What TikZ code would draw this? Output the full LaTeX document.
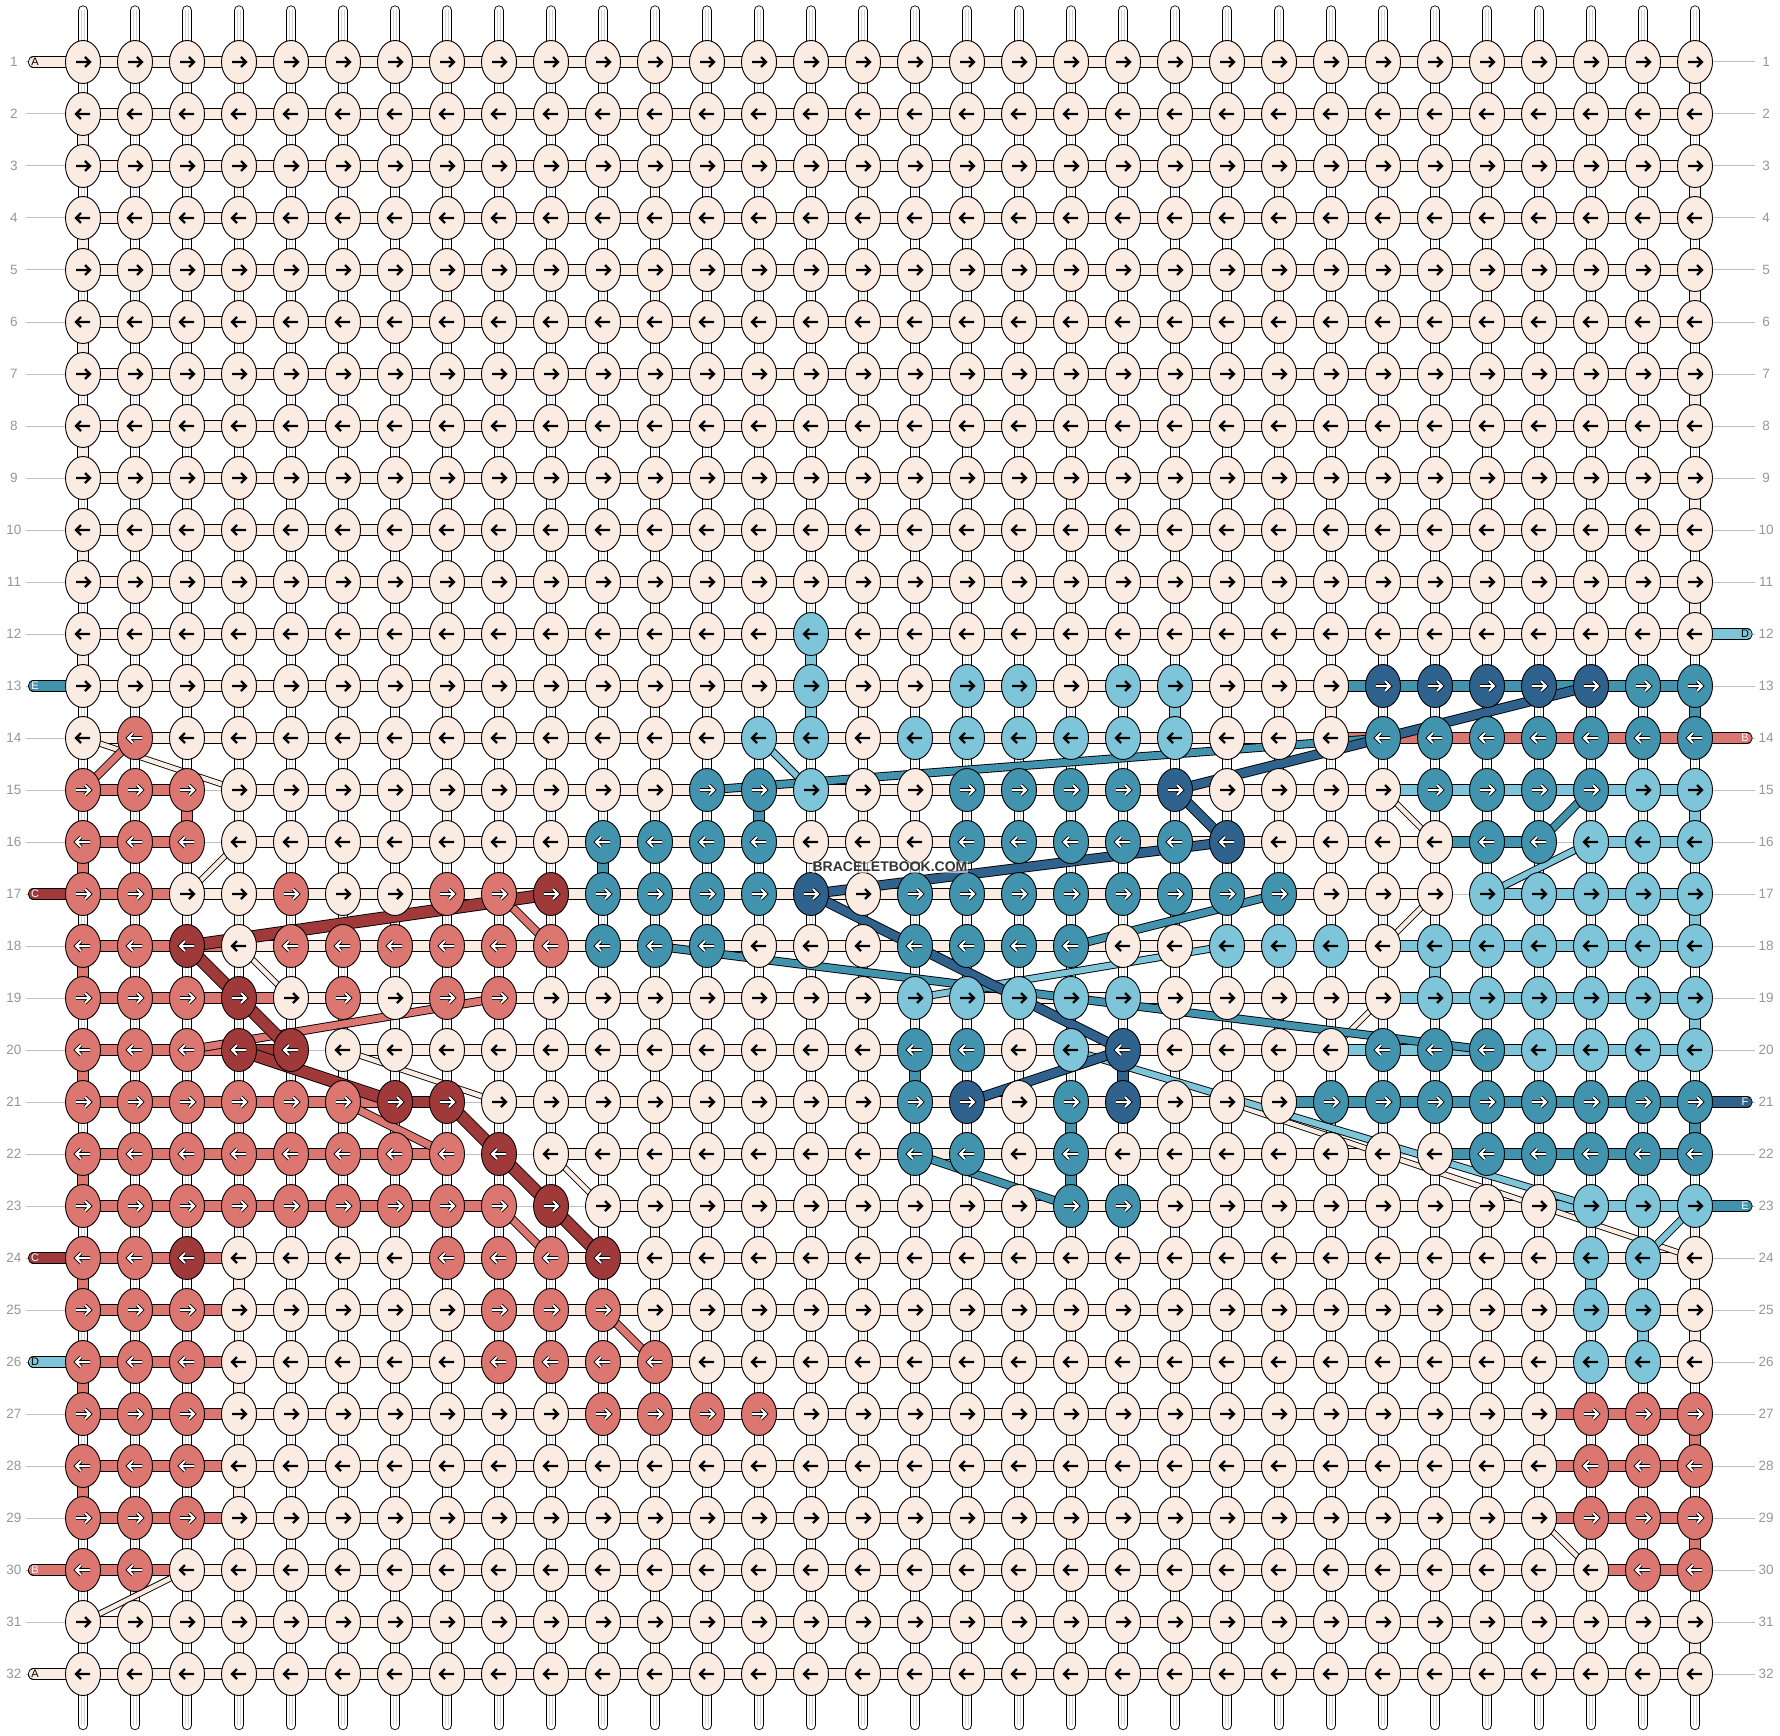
\documentclass[tikz,border=0pt]{standalone}
\usepackage{fontspec}
\setmainfont{Liberation Sans}
\usetikzlibrary{shapes.geometric}

% thread colours
\definecolor{colW}{RGB}{250,236,226}
\definecolor{colR}{RGB}{219,118,113}
\definecolor{colD}{RGB}{160,58,58}
\definecolor{colL}{RGB}{127,197,218}
\definecolor{colT}{RGB}{66,147,173}
\definecolor{colB}{RGB}{47,98,141}
\definecolor{rulegray}{RGB}{190,190,190}
\definecolor{strandgray}{RGB}{212,212,212}
\definecolor{numgray}{RGB}{150,150,150}

% knot colours, one letter per knot
\newcount\knotcol
\def\knotrow#1#2{\knotcol=0 \def\knotr{#1}\knotrowloop#2\relax}
\def\knotrowloop#1{%
  \ifx#1\relax\else
    \advance\knotcol by 1
    \expandafter\xdef\csname kn\knotr x\the\knotcol\endcsname{#1}%
    \expandafter\knotrowloop
  \fi}

\foreach \r in {1,...,11,31,32} {\knotrow{\r}{WWWWWWWW WWWWWWWW WWWWWWWW WWWWWWWW}}
\knotrow{12}{WWWWWWWW WWWWWWLW WWWWWWWW WWWWWWWW}
\knotrow{13}{WWWWWWWW WWWWWWLW WLLWLLWW WBBBBBTT}
\knotrow{14}{WRWWWWWW WWWWWLLW LLLLLLWW WTTTTTTT}
\knotrow{15}{RRRWWWWW WWWWTTLW WTTTTBWW WWTTTTLL}
\knotrow{16}{RRRWWWWW WWTTTTWW WTTTTTBW WWWTTLLL}
\knotrow{17}{RRWWRWWR RDTTTTBW TTTTTTTT WWWLLLLL}
\knotrow{18}{RRDWRRRR RRTTTWWW TTTTWWLL LWLLLLLL}
\knotrow{19}{RRRDWRWR RWWWWWWW LLLLLWWW WWLLLLLL}
\knotrow{20}{RRRDDWWW WWWWWWWW TTWLBWWW WTTTLLLL}
\knotrow{21}{RRRRRRDD WWWWWWWW TBWTBWWW TTTTTTTT}
\knotrow{22}{RRRRRRRR DWWWWWWW TTWTWWWW WWWTTTTT}
\knotrow{23}{RRRRRRRR RDWWWWWW WWWTTWWW WWWWWLLL}
\knotrow{24}{RRDWWWWR RRDWWWWW WWWWWWWW WWWWWLLW}
\knotrow{25}{RRRWWWWW RRRWWWWW WWWWWWWW WWWWWLLW}
\knotrow{26}{RRRWWWWW RRRRWWWW WWWWWWWW WWWWWLLW}
\knotrow{27}{RRRWWWWW WWRRRRWW WWWWWWWW WWWWWRRR}
\knotrow{28}{RRRWWWWW WWWWWWWW WWWWWWWW WWWWWRRR}
\knotrow{29}{RRRWWWWW WWWWWWWW WWWWWWWW WWWWWRRR}
\knotrow{30}{RRWWWWWW WWWWWWWW WWWWWWWW WWWWWWRR}

\tikzset{
  thread/.style={double=#1, double distance=9.5pt, line width=.9pt},
  strand/.style={double=white, double distance=8.5pt, line width=.9pt, line cap=round},
  knot/.style={ellipse, draw, line width=.9pt, minimum width=35pt, minimum height=43pt, inner sep=0pt},
  arrW/.style={line width=2.4pt},
  arrL/.style={line width=2.4pt},
  arrR/.style={double=white, double distance=2pt, line width=.9pt},
  arrD/.style={arrR}, arrT/.style={arrR}, arrB/.style={arrR},
  rownum/.style={text=numgray, font=\fontsize{13.5}{15}\selectfont},
  stubtext/.style={font=\fontsize{11}{12}\selectfont},
}

\begin{document}
\begin{tikzpicture}[x=1pt,y=-1pt]
\useasboundingbox (0,0) rectangle (1780,1736);

% knot positions
\foreach \r in {1,...,32}
  \foreach \c in {1,...,32}
    \coordinate (p\r-\c) at ({83+52*(\c-1)},{62+52*(\r-1)});

% vertical strands
\foreach \c in {1,...,32} {
  \coordinate (top\c) at ({83+52*(\c-1)},10.5);
  \coordinate (bot\c) at ({83+52*(\c-1)},1725);
  \draw[strand] (top\c) -- (bot\c);
  \draw[strandgray, line width=.45pt] ([xshift=-1.5pt]top\c) -- ([xshift=-1.5pt]bot\c)
    ([xshift=1.5pt]top\c) -- ([xshift=1.5pt]bot\c);
}

% rows: guide lines, numbers, cream weft
\foreach \r in {1,...,32} {
  \coordinate (gL\r) at (26,{62+52*(\r-1)});
  \coordinate (gR\r) at (1755,{62+52*(\r-1)});
  \draw[rulegray, line width=1pt] (gL\r) -- (p\r-1) (p\r-32) -- (gR\r);
  \node[rownum] (nL\r) at (14,{62+52*(\r-1)}) {\r};
  \node[rownum] (nR\r) at (1766,{62+52*(\r-1)}) {\r};
  \draw[thread=colW] (p\r-1) -- (p\r-32);
}

% coloured weft
\foreach \r/\a/\b/\k in {13/25/32/T, 14/25/32/R, 15/1/3/R, 15/26/32/L, 16/1/3/R,
    16/27/29/T, 16/30/32/L, 17/1/3/R, 17/28/32/L, 18/1/4/R, 18/26/32/L,
    19/1/5/R, 19/26/32/L, 20/1/4/R, 20/4/5/D, 20/25/32/L, 21/1/7/R, 21/7/8/D,
    21/24/32/T, 22/1/8/R, 22/27/32/T, 23/1/9/R, 23/29/32/L, 24/1/4/R, 25/1/4/R,
    26/1/4/R, 27/1/4/R, 27/29/32/R, 28/1/4/R, 28/29/32/R, 29/1/4/R, 29/29/32/R,
    30/1/3/R, 30/30/32/R}
  \draw[thread=col\k] (p\r-\a) -- (p\r-\b);

% gaps where no weft shows
\foreach \r/\a/\b in {15/3/4, 16/3/4, 16/29/30, 17/27/28, 20/5/6, 21/8/9,
    22/8/10, 22/26/27, 23/9/11} {
  \draw[white, line width=12pt] (p\r-\a) -- (p\r-\b);
  \draw[rulegray, line width=1pt] (p\r-\a) -- (p\r-\b);
}

% weft turning down to the next row
\foreach \r/\c/\k in {2/1/W, 4/1/W, 6/1/W, 8/1/W, 10/1/W, 12/1/W, 1/32/W, 3/32/W,
    5/32/W, 7/32/W, 9/32/W, 11/32/W, 25/32/W, 31/32/W, 13/25/W, 24/4/W, 26/4/W,
    28/4/W, 27/29/W, 12/15/L, 13/15/L, 13/22/L, 13/32/T, 15/3/R, 15/14/T,
    15/32/L, 16/1/R, 16/11/T, 17/32/L, 18/1/R, 18/27/L, 19/32/L, 20/1/R,
    20/17/T, 20/21/B, 21/20/T, 21/32/T, 22/1/R, 22/20/T, 24/1/R, 24/30/L,
    25/31/L, 26/1/R, 27/32/R, 28/1/R, 29/32/R} {
  \pgfmathtruncatemacro\rn{\r+1}
  \draw[thread=col\k] (p\r-\c) -- (p\rn-\c);
}

% threads carried to another row
\foreach \ca/\ra/\cb/\rb/\k/\w in {1/14/4/15/W/4.5, 3/17/4/16/W/4.5, 4/18/5/19/W/4.5,
    6/20/9/21/W/4.5, 10/22/11/23/W/4.5, 1/31/3/30/W/4.5, 29/29/30/30/W/4.5,
    26/15/27/16/W/4.5, 26/18/27/17/W/4.5, 25/20/26/19/W/4.5, 23/21/32/24/W/4.5,
    1/15/2/14/R/7, 9/17/10/18/R/7, 3/20/9/19/R/7, 6/21/8/22/R/7, 9/23/10/24/R/7,
    11/25/12/26/R/7,
    3/18/10/17/D/11, 3/18/4/19/D/11, 4/19/5/20/D/11, 4/20/7/21/D/11,
    8/21/9/22/D/11, 9/22/10/23/D/11, 10/23/11/24/D/11,
    14/14/15/15/L/6, 17/19/23/18/L/6, 28/17/30/16/L/6, 20/20/30/23/L/6,
    31/24/32/23/L/6,
    13/15/26/14/T/7, 12/18/28/20/T/7, 20/18/24/17/T/7, 29/16/30/15/T/7,
    17/22/20/23/T/7,
    22/15/30/13/B/8.5, 22/15/23/16/B/8.5, 23/16/15/17/B/8.5, 15/17/21/20/B/8.5,
    18/21/21/20/B/8.5}
  \draw[thread=col\k, double distance=\w pt] (p\ra-\ca) -- (p\rb-\cb);

% loose ends, left and right
\foreach \r/\k/\t/\tc in {1/W/A/black, 13/T/E/white, 17/D/C/white, 24/D/C/white,
    26/L/D/black, 30/R/B/white, 32/W/A/black} {
  \coordinate (sL\r) at (33.5,{62+52*(\r-1)});
  \draw[thread=col\k, line cap=round] (sL\r) -- (p\r-1);
  \node[stubtext, text=\tc] (tL\r) at (35,{62+52*(\r-1)}) {\t};
}
\foreach \r/\k/\t/\tc in {12/L/D/black, 14/R/B/white, 21/B/F/white, 23/T/E/white} {
  \coordinate (sR\r) at (1747,{62+52*(\r-1)});
  \draw[thread=col\k, line cap=round] (p\r-32) -- (sR\r);
  \node[stubtext, text=\tc] (tR\r) at (1745,{62+52*(\r-1)}) {\t};
}

% knots
\foreach \r in {1,...,32} {
  \pgfmathtruncatemacro\d{mod(\r,2)==1 ? 1 : -1}
  \pgfmathsetmacro\ta{-7*\d}
  \pgfmathsetmacro\tb{7*\d}
  \pgfmathsetmacro\tx{2*\d}
  \foreach \c in {1,...,32} {
    \edef\kc{\csname kn\r x\c\endcsname}
    \node[knot, fill=col\kc] (k\r-\c) at (p\r-\c) {};
    \draw[arr\kc, shift={(p\r-\c)}] (\ta,0) -- (\tb,0) (\tx,-5) -- (\tb,0) -- (\tx,5);
  }
}

\node[font=\bfseries\fontsize{14}{14}\selectfont, text=black!80, fill=white,
  fill opacity=.55, text opacity=1, inner sep=1pt] (mark) at (890,867) {BRACELETBOOK.COM};
\end{tikzpicture}
\end{document}
